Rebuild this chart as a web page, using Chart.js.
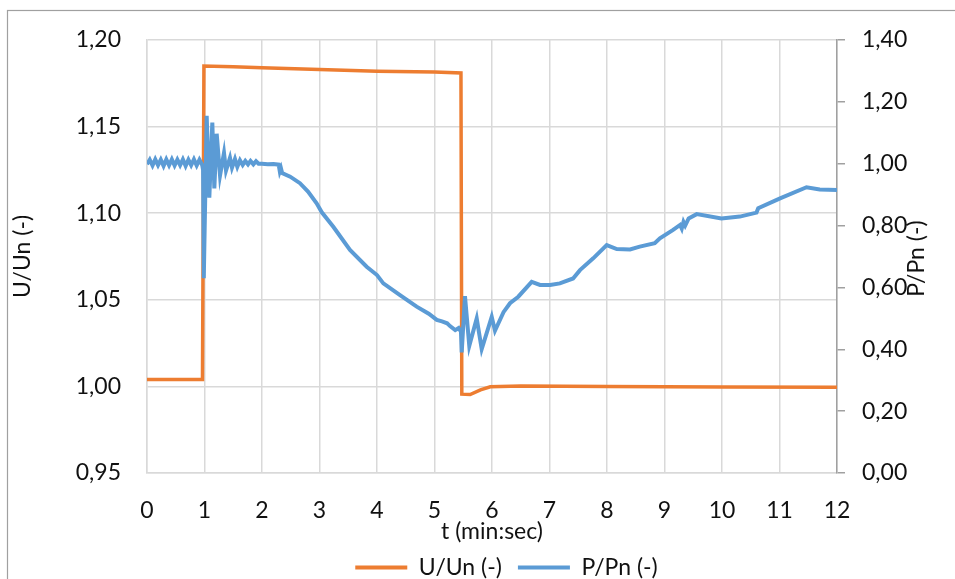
<!DOCTYPE html>
<html>
<head>
<meta charset="utf-8">
<script src="https://cdn.jsdelivr.net/npm/chart.js@4.4.1/dist/chart.umd.min.js"></script>
<style>
html,body{margin:0;padding:0;background:#fff;}
#wrap{width:955px;height:579px;position:relative;}
</style>
</head>
<body>
<div id="wrap"><canvas id="c" width="955" height="579"></canvas></div>
<script>
// ---- data ----
const seriesNames = ['U/Un (-)', 'P/Pn (-)'];
const xTitle = 't (min:sec)';
const leftTitle = 'U/Un (-)';
const rightTitle = 'P/Pn (-)';

// U/Un (left axis)
const tU = [0, 0.965, 0.99, 1.5, 2, 3, 4, 5, 5.46, 5.475, 5.62, 5.8, 5.97, 6.5, 8, 10, 12];
const vU = [1.004, 1.004, 1.185, 1.1845, 1.184, 1.183, 1.182, 1.1815, 1.181, 0.9955, 0.9953, 0.998, 0.9998, 1.0002, 1.0, 0.9997, 0.9995];

// P/Pn (right axis)
const tP = [
  0, 0.048, 0.096, 0.144, 0.192, 0.24, 0.288, 0.336, 0.384, 0.432, 0.48,
  0.528, 0.576, 0.624, 0.672, 0.72, 0.768, 0.816, 0.864, 0.912, 0.96,
  0.975, 0.985, 0.99, 1.038, 1.084, 1.136, 1.171, 1.212, 1.27, 1.339, 1.374,
  1.443, 1.478, 1.53, 1.571, 1.617, 1.664, 1.71, 1.757, 1.8, 1.85, 1.896, 1.94,
  2.0, 2.1, 2.2, 2.29, 2.31, 2.33, 2.35, 2.49, 2.66, 2.8, 2.95, 3.04, 3.24,
  3.53, 3.82, 4.0, 4.11, 4.4, 4.69, 4.9, 5.04, 5.13, 5.22, 5.27, 5.36, 5.42,
  5.46, 5.473, 5.53, 5.605, 5.734, 5.821, 5.995, 6.052, 6.2, 6.313, 6.457,
  6.69, 6.835, 7.01, 7.18, 7.41, 7.53, 7.76, 7.995, 8.17, 8.4, 8.57, 8.83,
  8.92, 9.15, 9.27, 9.3, 9.33, 9.36, 9.42, 9.56, 9.99, 10.31, 10.6, 10.63,
  11.01, 11.47, 11.7, 12.0
];
const vP = [
  0.998, 1.013, 0.994, 1.014, 0.995, 1.013, 0.993, 1.014, 0.995, 1.014, 0.994,
  1.013, 0.995, 1.014, 0.993, 1.013, 0.995, 1.014, 0.994, 1.013, 0.996,
  0.980, 0.750, 0.630, 1.155, 0.890, 1.133, 0.920, 1.097, 0.962, 1.035, 0.978,
  1.019, 0.987, 1.015, 0.990, 1.011, 0.996, 1.009, 0.998, 1.009, 0.998, 1.008, 1.000,
  1.000, 0.998, 0.999, 0.997, 0.975, 0.985, 0.970, 0.958, 0.937, 0.910, 0.872, 0.843, 0.796,
  0.721, 0.667, 0.640, 0.613, 0.575, 0.538, 0.515, 0.495, 0.490, 0.484, 0.475, 0.462, 0.469,
  0.457, 0.390, 0.572, 0.411, 0.500, 0.401, 0.505, 0.460, 0.520, 0.549, 0.570,
  0.618, 0.608, 0.608, 0.613, 0.629, 0.656, 0.694, 0.737, 0.724, 0.723, 0.732, 0.743,
  0.759, 0.786, 0.802, 0.790, 0.812, 0.800, 0.823, 0.837, 0.823, 0.829, 0.842, 0.856,
  0.888, 0.924, 0.917, 0.915
];

const leftMin = 0.95, leftMax = 1.20, leftStep = 0.05;
const rightMin = 0, rightMax = 1.4, rightStep = 0.2;
const xMin = 0, xMax = 12, xStep = 1;

// ---- styling ----
const ORANGE = '#ED7D31';
const BLUE = '#5B9BD5';
const GRID = '#d9d9d9';
const FONT = 'Lato';
const FS = 23;
const PAD_BOTTOM = -10;
const PAD_LEFT = 58;

const decComma = v => Number(v).toFixed(2).replace('.', ',');

const framePlugin = {
  id: 'frame',
  beforeDraw(chart) {
    const ctx = chart.ctx;
    ctx.save();
    ctx.fillStyle = '#fff';
    ctx.fillRect(0, 0, chart.width, chart.height);
    ctx.strokeStyle = '#a0a0a0';
    ctx.lineWidth = 1.2;
    ctx.strokeRect(7.5, 10.5, 1000, 1000);
    ctx.restore();
  },
  afterDraw(chart) {
    const ctx = chart.ctx;
    const a = chart.chartArea;
    const cy = (a.top + a.bottom) / 2;
    ctx.save();
    ctx.font = FS + 'px ' + FONT;
    ctx.fillStyle = '#111';
    ctx.textAlign = 'center';
    ctx.textBaseline = 'middle';
    ctx.save();
    ctx.translate(23, cy);
    ctx.rotate(-Math.PI / 2);
    ctx.fillText(leftTitle, 0, 0);
    ctx.restore();
    ctx.save();
    ctx.translate(917, cy + 2);
    ctx.rotate(-Math.PI / 2);
    ctx.fillText(rightTitle, 0, 0);
    ctx.restore();
    ctx.restore();
  }
};

const ctx = document.getElementById('c').getContext('2d');
new Chart(ctx, {
  type: 'line',
  data: {
    datasets: [
      {
        label: seriesNames[0],
        data: tU.map((t, i) => ({ x: t, y: vU[i] })),
        yAxisID: 'y',
        borderColor: ORANGE,
        backgroundColor: ORANGE,
        borderWidth: 3.5,
        pointRadius: 0,
        tension: 0,
        order: 2
      },
      {
        label: seriesNames[1],
        data: tP.map((t, i) => ({ x: t, y: vP[i] })),
        yAxisID: 'y1',
        borderColor: BLUE,
        backgroundColor: BLUE,
        borderWidth: 4,
        pointRadius: 0,
        tension: 0,
        order: 1
      }
    ]
  },
  options: {
    responsive: false,
    animation: false,
    devicePixelRatio: 1,
    layout: { padding: { top: 40, left: PAD_LEFT, right: 0, bottom: PAD_BOTTOM } },
    plugins: {
      tooltip: { enabled: false },
      legend: {
        position: 'bottom',
        labels: {
          font: { family: FONT, size: FS },
          color: '#111',
          boxWidth: 52,
          boxHeight: 4,
          padding: 16,
          sort: (a, b) => a.datasetIndex - b.datasetIndex,
          generateLabels(chart) {
            const items = Chart.defaults.plugins.legend.labels.generateLabels(chart);
            items.forEach(it => { it.lineWidth = 0; });
            return items;
          }
        }
      }
    },
    scales: {
      x: {
        type: 'linear',
        min: xMin, max: xMax,
        ticks: {
          stepSize: xStep,
          font: { family: FONT, size: FS },
          color: '#111',
          padding: 24,
          maxRotation: 0,
          callback: v => String(v)
        },
        grid: { color: GRID, lineWidth: 1.5, drawTicks: false },
        border: { color: GRID, width: 1.5 },
        title: {
          display: true,
          text: xTitle,
          font: { family: FONT, size: FS },
          color: '#111',
          padding: { top: 0, bottom: -5 }
        },
        afterFit(s) {
          const lh = (s.chart.legend && s.chart.legend.height) || 44;
          s.height = 579 - 473 - PAD_BOTTOM - lh;
        }
      },
      y: {
        type: 'linear',
        position: 'left',
        min: leftMin, max: leftMax,
        ticks: {
          stepSize: leftStep,
          font: { family: FONT, size: FS },
          color: '#111',
          padding: 26,
          callback: v => decComma(v)
        },
        grid: { color: GRID, lineWidth: 1.5, drawTicks: false },
        border: { color: GRID, width: 1.5 },
        afterFit(s) { s.width = 147 - PAD_LEFT; }
      },
      y1: {
        type: 'linear',
        position: 'right',
        min: rightMin, max: rightMax,
        ticks: {
          stepSize: rightStep,
          font: { family: FONT, size: FS },
          color: '#111',
          padding: 17,
          callback: v => decComma(v)
        },
        grid: { color: '#a0a0a0', lineWidth: 1.5, drawOnChartArea: false, drawTicks: true, tickLength: 8 },
        border: { color: '#a0a0a0', width: 1.5 },
        afterFit(s) { s.width = 955 - 837; }
      }
    }
  },
  plugins: [framePlugin]
});
</script>
</body>
</html>
